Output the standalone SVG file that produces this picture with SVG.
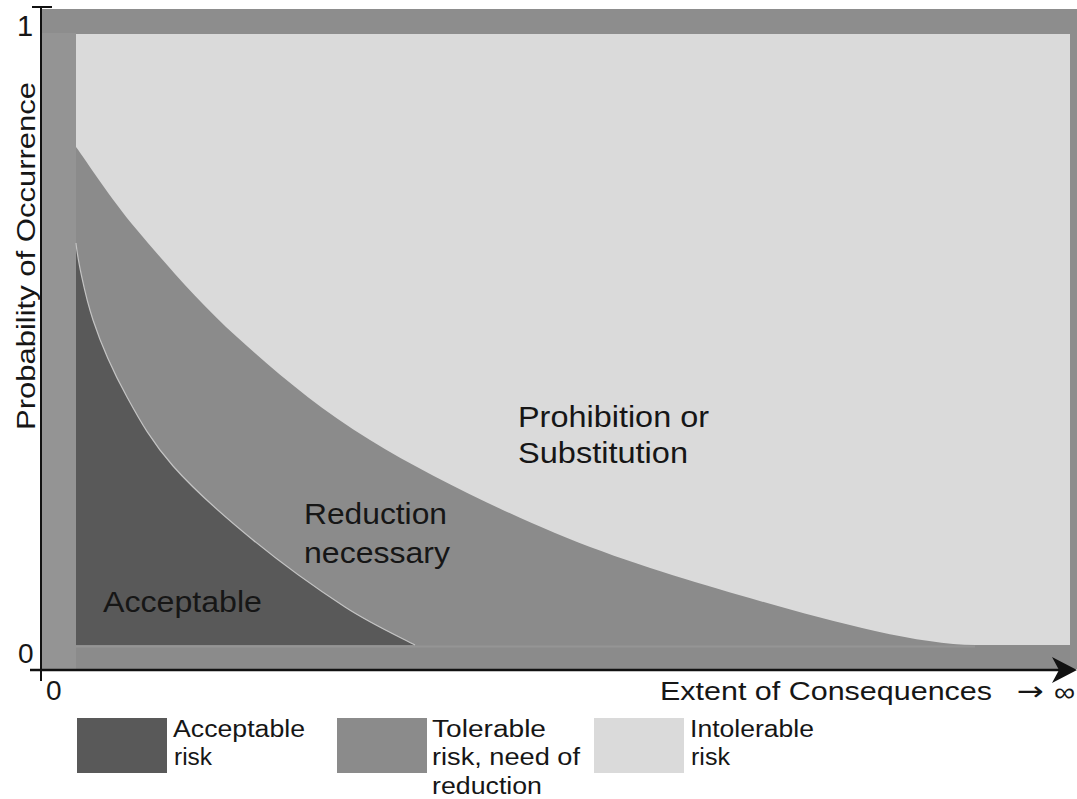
<svg xmlns="http://www.w3.org/2000/svg" width="1077" height="799" viewBox="0 0 1077 799">
<style>
.t{font-family:"Liberation Sans",Arial,sans-serif;fill:#161616}
.big{font-size:30px}
.ax{font-size:26px}
.lg{font-size:23px}
.dark{fill:#595959}
.mid{fill:#8b8b8b}
.light{fill:#dadada}
</style>
<rect width="1077" height="799" fill="#ffffff"/>
<g id="frame">
<rect x="42" y="9" width="1035" height="660" fill="#8d8d8d"/>
<rect x="42" y="33" width="34" height="636" fill="#949494"/>
</g>
<g id="region-intolerable">
<rect class="light" x="76" y="34" width="994" height="611"/>
</g>
<g id="region-tolerable">
<path class="mid" d="M76,147 C86.2,160.8 110.2,198.3 137,230 C163.8,261.7 198.2,302 237,337 C275.8,372 317,407.3 370,440 C423,472.7 493.5,507.2 555,533 C616.5,558.8 684.3,579.2 739,595 C819,618 915,645 975,645 L1070,645 L1070,669 L76,669 Z"/>
<line x1="76" y1="646.5" x2="975" y2="646.5" stroke="#959595" stroke-width="2"/>
</g>
<g id="region-acceptable">
<path class="dark" d="M76,243 C77.5,258 84.5,294.3 93,320 C101.5,345.7 113.7,372.7 127,397 C140.3,421.3 152,442.2 173,466 C194,489.8 224.3,516.5 253,540 C281.7,563.5 318,589.5 345,607 C372,624.5 403.3,638.7 415,645 L76,645 Z"/>
<path d="M76,243 C77.5,258 84.5,294.3 93,320 C101.5,345.7 113.7,372.7 127,397 C140.3,421.3 152,442.2 173,466 C194,489.8 224.3,516.5 253,540 C281.7,563.5 318,589.5 345,607 C372,624.5 403.3,638.7 415,645" fill="none" stroke="#c4c4c4" stroke-width="1.2"/>
</g>
<g id="connectors">
<line x1="41" y1="7" x2="41" y2="681" stroke="#111" stroke-width="2"/>
<line x1="32" y1="7" x2="52" y2="7" stroke="#111" stroke-width="2"/>
<line x1="30" y1="670" x2="1062" y2="670" stroke="#111" stroke-width="2.5"/>
<polygon points="1077,670 1052,657 1059,670 1052,683" fill="#111"/>
</g>
<g id="axis-labels">
<text class="t" x="17" y="36" font-size="29">1</text>
<text class="t" x="18" y="663" font-size="28">0</text>
<text class="t" x="46" y="700" font-size="28">0</text>
<text class="t ax" transform="translate(35,430) rotate(-90)" x="0" y="0" font-size="28" textLength="348" lengthAdjust="spacingAndGlyphs">Probability of Occurrence</text>
<text class="t ax" x="660" y="700" textLength="332" lengthAdjust="spacingAndGlyphs">Extent of Consequences</text>
<text x="1017" y="700" font-family="'DejaVu Sans',sans-serif" font-size="26" fill="#161616" textLength="27" lengthAdjust="spacingAndGlyphs">→</text>
<text class="t" x="1054" y="701" font-size="26" textLength="21" lengthAdjust="spacingAndGlyphs">∞</text>
</g>
<g id="label-prohibition">
<text class="t big" x="518" y="427" textLength="191" lengthAdjust="spacingAndGlyphs">Prohibition or</text>
<text class="t big" x="518" y="463" textLength="170" lengthAdjust="spacingAndGlyphs">Substitution</text>
</g>
<g id="label-reduction">
<text class="t big" x="304" y="524" textLength="143" lengthAdjust="spacingAndGlyphs">Reduction</text>
<text class="t big" x="304" y="563" textLength="146" lengthAdjust="spacingAndGlyphs">necessary</text>
</g>
<g id="label-acceptable">
<text class="t big" x="103" y="612" textLength="159" lengthAdjust="spacingAndGlyphs">Acceptable</text>
</g>
<g id="legend-acceptable">
<rect class="dark" x="77" y="718" width="90" height="55"/>
<text class="t lg" x="173" y="737" textLength="132" lengthAdjust="spacingAndGlyphs">Acceptable</text>
<text class="t lg" x="174" y="765" textLength="38" lengthAdjust="spacingAndGlyphs">risk</text>
</g>
<g id="legend-tolerable">
<rect class="mid" x="337" y="718" width="90" height="55"/>
<text class="t lg" x="432" y="737" textLength="114" lengthAdjust="spacingAndGlyphs">Tolerable</text>
<text class="t lg" x="432" y="765" textLength="148" lengthAdjust="spacingAndGlyphs">risk, need of</text>
<text class="t lg" x="432" y="794" textLength="110" lengthAdjust="spacingAndGlyphs">reduction</text>
</g>
<g id="legend-intolerable">
<rect class="light" x="594" y="718" width="90" height="55"/>
<text class="t lg" x="690" y="737" textLength="124" lengthAdjust="spacingAndGlyphs">Intolerable</text>
<text class="t lg" x="691" y="765" textLength="39" lengthAdjust="spacingAndGlyphs">risk</text>
</g>
</svg>
